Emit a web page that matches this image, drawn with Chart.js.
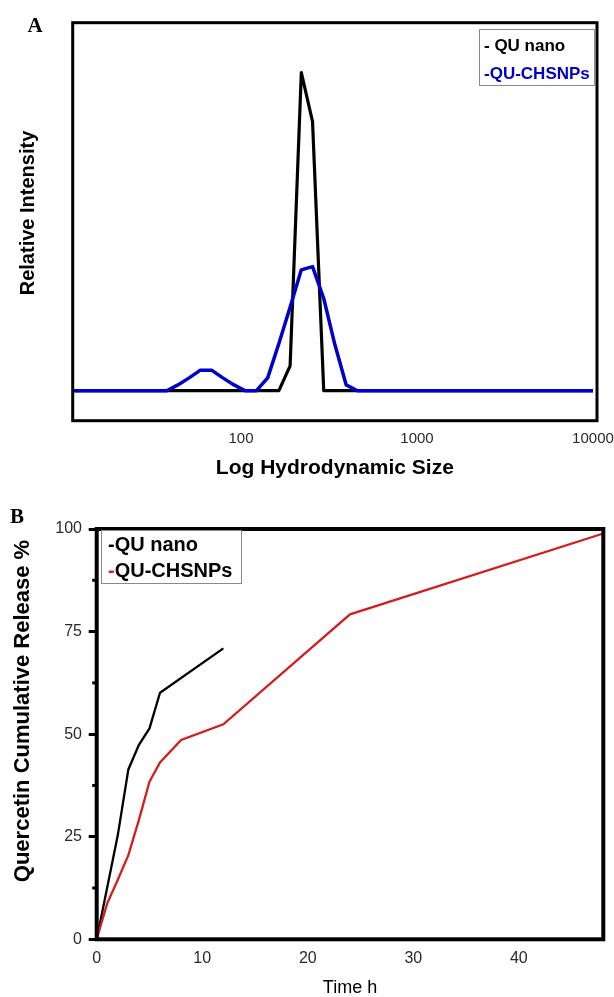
<!DOCTYPE html>
<html><head><meta charset="utf-8">
<script src="https://cdn.jsdelivr.net/npm/chart.js@4.4.1/dist/chart.umd.min.js"></script>
<style>
html,body{margin:0;padding:0;background:#fff;width:614px;height:997px;overflow:hidden}
#wa{position:absolute;left:0;top:0;width:614px;height:490px}
#wb{position:absolute;left:0;top:490px;width:614px;height:507px}
canvas{display:block}
</style></head><body>
<div id="wa"><canvas id="ca" width="614" height="490"></canvas></div>
<div id="wb"><canvas id="cb" width="614" height="507"></canvas></div>
<script>
// ---- Panel A data: DLS size distribution ----
const sizeBinsNm = [10.1, 37.84, 43.82, 50.75, 58.77, 68.06, 78.82, 91.28, 105.7, 122.4, 141.8, 164.2, 190.1, 220.2, 255.0, 295.3, 342.0, 396.1, 458.7, 10000];
const quNanoIntensity = [0, 0, 0, 0, 0, 0, 0, 0, 0, 0, 0, 0, 7.7, 99, 83.7, 0, 0, 0, 0, 0];
const quChsnpsIntensity = [0, 0, 1.8, 4.0, 6.4, 6.4, 4.0, 1.8, 0, 0, 4.0, 14.7, 26, 37.6, 38.6, 28.7, 14.2, 1.8, 0, 0];
const sizeTickValues = [100, 1000, 10000];

// ---- Panel B data: cumulative release ----
const timeQuNanoH = [0, 1, 2, 3, 4, 5, 6, 12];
const releaseQuNano = [0, 12.7, 25.4, 41.4, 47.4, 51.4, 60.1, 70.9];
const timeChsnpsH = [0, 1, 2, 3, 4, 5, 6, 8, 12, 24, 48];
const releaseChsnps = [0, 8.8, 14.5, 20.5, 29.1, 38.4, 43.1, 48.6, 52.4, 79.2, 98.9];
const timeTickValues = [0, 10, 20, 30, 40];
const releaseTickValues = [0, 25, 50, 75, 100];
const releaseMinorTickValues = [12.5, 37.5, 62.5, 87.5];

const SANS = '"Liberation Sans", Arial, Helvetica, sans-serif';
const SERIF = '"Liberation Serif", "Times New Roman", serif';
const BLUE = '#0000cd';
const RED = '#d41e1e';

function pts(xs, ys) { return xs.map((x, i) => ({x: x, y: ys[i]})); }

const decorA = {
  id: 'decorA',
  afterDraw(chart) {
    const ctx = chart.ctx, a = chart.chartArea;
    ctx.save();
    ctx.lineWidth = 3; ctx.strokeStyle = '#000';
    ctx.strokeRect(a.left, a.top, a.right - a.left, a.bottom - a.top);
    // legend
    ctx.fillStyle = '#fff'; ctx.fillRect(479.5, 29.5, 115, 56);
    ctx.lineWidth = 1; ctx.strokeStyle = '#8a8a8a'; ctx.strokeRect(479.5, 29.5, 115, 56);
    ctx.font = 'bold 17px ' + SANS; ctx.textBaseline = 'middle'; ctx.textAlign = 'left';
    ctx.fillStyle = '#000'; ctx.fillText('- QU nano', 484, 46);
    ctx.fillStyle = BLUE; ctx.fillText('-QU-CHSNPs', 484, 74);
    // panel letter
    ctx.fillStyle = '#000'; ctx.textAlign = 'center';
    ctx.font = 'bold 21px ' + SERIF; ctx.fillText('A', 35, 27);
    // y title
    ctx.translate(28, 213); ctx.rotate(-Math.PI / 2);
    ctx.font = 'bold 20px ' + SANS; ctx.fillText('Relative Intensity', 0, 0);
    ctx.restore();
  }
};

const decorB = {
  id: 'decorB',
  afterDraw(chart) {
    const ctx = chart.ctx, a = chart.chartArea, ys = chart.scales.y;
    ctx.save();
    ctx.lineWidth = 4; ctx.strokeStyle = '#000';
    ctx.strokeRect(a.left, a.top, a.right - a.left, a.bottom - a.top);
    // minor ticks
    ctx.lineWidth = 3;
    releaseMinorTickValues.forEach(v => {
      const y = ys.getPixelForValue(v);
      ctx.beginPath(); ctx.moveTo(a.left - 4.5, y); ctx.lineTo(a.left, y); ctx.stroke();
    });
    // legend
    ctx.fillStyle = '#fff'; ctx.fillRect(101.5, 40.5, 140, 53);
    ctx.lineWidth = 1; ctx.strokeStyle = '#8a8a8a'; ctx.strokeRect(101.5, 40.5, 140, 53);
    ctx.font = 'bold 20px ' + SANS; ctx.textBaseline = 'middle'; ctx.textAlign = 'left';
    ctx.fillStyle = '#000'; ctx.fillText('-QU nano', 108, 55);
    const dw = ctx.measureText('-').width;
    ctx.fillStyle = RED; ctx.fillText('-', 108, 81);
    ctx.fillStyle = '#000'; ctx.fillText('QU-CHSNPs', 108 + dw, 81);
    // panel letter
    ctx.textAlign = 'center';
    ctx.font = 'bold 21px ' + SERIF; ctx.fillText('B', 17, 28);
    // y title
    ctx.translate(23, 221); ctx.rotate(-Math.PI / 2);
    ctx.font = 'bold 22px ' + SANS; ctx.fillText('Quercetin Cumulative Release %', 0, 0);
    ctx.restore();
  }
};

new Chart(document.getElementById('ca'), {
  type: 'line',
  data: {
    datasets: [
      {label: 'QU-CHSNPs', data: pts(sizeBinsNm, quChsnpsIntensity), borderColor: BLUE, borderWidth: 3.5, pointRadius: 0, tension: 0, borderJoinStyle: 'round', order: 0},
      {label: 'QU nano', data: pts(sizeBinsNm, quNanoIntensity), borderColor: '#000', borderWidth: 3.2, pointRadius: 0, tension: 0, borderJoinStyle: 'round', order: 1}
    ]
  },
  options: {
    responsive: false, animation: false, devicePixelRatio: 1,
    layout: {padding: {top: 22.7, right: 17, bottom: 0, left: 0}},
    plugins: {legend: {display: false}, tooltip: {enabled: false}},
    scales: {
      x: {
        type: 'logarithmic', min: 11.06, max: 10540,
        afterBuildTicks(s) { s.ticks = sizeTickValues.map(v => ({value: v})); },
        ticks: {autoSkip: false, maxRotation: 0, padding: 9.3, color: '#2a2a2a', font: {family: SANS, size: 15}, callback: v => String(v)},
        grid: {display: false, drawTicks: false}, border: {display: false},
        title: {display: true, text: 'Log Hydrodynamic Size', color: '#000', font: {family: SANS, size: 21, weight: 'bold', lineHeight: 1}, padding: {top: 0, bottom: 11.5}},
        afterFit(s) { s.height = 69.3; s.paddingLeft = 0; s.paddingRight = 0; }
      },
      y: {
        type: 'linear', min: -9.33, max: 114.5,
        ticks: {display: false}, grid: {display: false, drawTicks: false}, border: {display: false},
        afterFit(s) { s.width = 72.7; s.paddingTop = 0; s.paddingBottom = 0; }
      }
    }
  },
  plugins: [decorA]
});

new Chart(document.getElementById('cb'), {
  type: 'line',
  data: {
    datasets: [
      {label: 'QU-CHSNPs', data: pts(timeChsnpsH, releaseChsnps), borderColor: RED, borderWidth: 2.3, pointRadius: 0, tension: 0, order: 0},
      {label: 'QU nano', data: pts(timeQuNanoH, releaseQuNano), borderColor: '#000', borderWidth: 2.3, pointRadius: 0, tension: 0, order: 1}
    ]
  },
  options: {
    responsive: false, animation: false, devicePixelRatio: 1,
    layout: {padding: {top: 39, right: 10.7, bottom: 0, left: 0}},
    plugins: {legend: {display: false}, tooltip: {enabled: false}},
    scales: {
      x: {
        type: 'linear', min: 0, max: 48,
        afterBuildTicks(s) { s.ticks = timeTickValues.map(v => ({value: v})); },
        ticks: {autoSkip: false, maxRotation: 0, padding: 9.4, color: '#2a2a2a', font: {family: SANS, size: 16}},
        grid: {display: false, drawTicks: false}, border: {display: false},
        title: {display: true, text: 'Time h', color: '#000', font: {family: SANS, size: 18, lineHeight: 1}, padding: {top: 0, bottom: 0}},
        afterFit(s) { s.height = 57.7; s.paddingLeft = 0; s.paddingRight = 0; }
      },
      y: {
        type: 'linear', min: 0, max: 100,
        afterBuildTicks(s) { s.ticks = releaseTickValues.map(v => ({value: v})); },
        ticks: {autoSkip: false, padding: 6.7, color: '#2a2a2a', font: {family: SANS, size: 16}},
        grid: {display: true, drawOnChartArea: false, drawTicks: true, tickLength: 8, color: '#000', lineWidth: 3},
        border: {display: false},
        afterFit(s) { s.width = 96.7; s.paddingTop = 0; s.paddingBottom = 0; }
      }
    }
  },
  plugins: [decorB]
});
</script>
</body></html>
